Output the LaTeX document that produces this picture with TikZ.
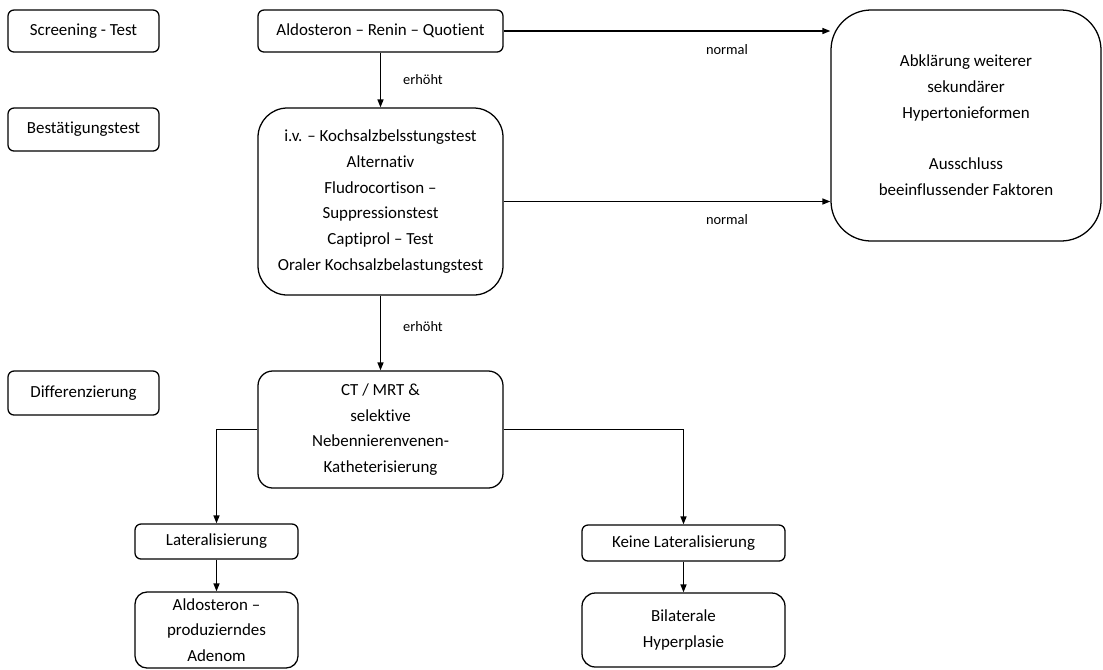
\documentclass[tikz,border=0pt]{standalone}
\usepackage{fontspec}
\setmainfont[Ligatures={NoCommon}]{Carlito}
\usetikzlibrary{arrows.meta}
\begin{document}
\begin{tikzpicture}[x=0.75pt,y=-0.75pt,
  box/.style={draw, line width=0.95pt, rounded corners=4.5pt, align=center, inner sep=0pt,
    font=\fontsize{12.7}{19.3}\selectfont},
  lbl/.style={font=\fontsize{10.8}{13}\selectfont, inner sep=0pt},
  arr/.style={line width=1.1pt, -{Triangle[length=6pt,width=4.5pt]}}]
\useasboundingbox (0,0) rectangle (1103,669);
% left column
\node[box, minimum width=113.25pt, minimum height=31.5pt] (scr) at (83.5,31) {Screening - Test};
\node[box, minimum width=113.25pt, minimum height=32.25pt] (best) at (83.5,129.5) {Bestätigungstest};
\node[box, minimum width=113.25pt, minimum height=33pt] (diff) at (83.5,393) {Differenzierung};
% main column
\node[box, minimum width=183.75pt, minimum height=31.5pt] (arq) at (380.5,31) {Aldosteron – Renin – Quotient};
\node[box, rounded corners=22pt, minimum width=183.75pt, minimum height=140.25pt] (iv) at (380.5,201.5)
  {i.v. – Kochsalzbelsstungstest\\Alternativ\\Fludrocortison –\\Suppressionstest\\Captiprol – Test\\Oraler Kochsalzbelastungstest};
\node[box, rounded corners=30pt, minimum width=202.5pt, minimum height=173.25pt] (right) at (966,125.5)
  {Abklärung weiterer\\sekundärer\\Hypertonieformen\\[19.3pt]Ausschluss\\beeinflussender Faktoren};
\node[box, rounded corners=11pt, minimum width=183.75pt, minimum height=87.75pt] (ct) at (380.5,429.5)
  {CT / MRT \&\\selektive\\Nebennierenvenen-\\Katheterisierung};
\node[box, minimum width=122.25pt, minimum height=26.25pt] (lat) at (216.5,541.5) {Lateralisierung};
\node[box, rounded corners=9pt, minimum width=122.25pt, minimum height=57pt] (ald) at (216.5,630)
  {Aldosteron –\\produzierndes\\Adenom};
\node[box, minimum width=152.25pt, minimum height=27pt] (keine) at (683.5,543) {Keine Lateralisierung};
\node[box, rounded corners=10pt, minimum width=152.25pt, minimum height=55.5pt] (bil) at (683.5,630)
  {Bilaterale\\Hyperplasie};
% connectors
\draw[arr] (arq.south) -- (iv.north);
\draw[arr] (arq.east) -- (arq.east -| right.west);
\draw[arr] (iv.east) -- (iv.east -| right.west);
\draw[arr] (iv.south) -- (ct.north);
\draw[arr] (ct.west) -| (lat.north);
\draw[arr] (ct.east) -| (keine.north);
\draw[arr] (lat.south) -- (ald.north);
\draw[arr] (keine.south) -- (bil.north);
% labels
\node[lbl] (e1) at (423,80) {erhöht};
\node[lbl] (e2) at (423,327) {erhöht};
\node[lbl] (n1) at (727,50) {normal};
\node[lbl] (n2) at (727,220) {normal};
\end{tikzpicture}
\end{document}
